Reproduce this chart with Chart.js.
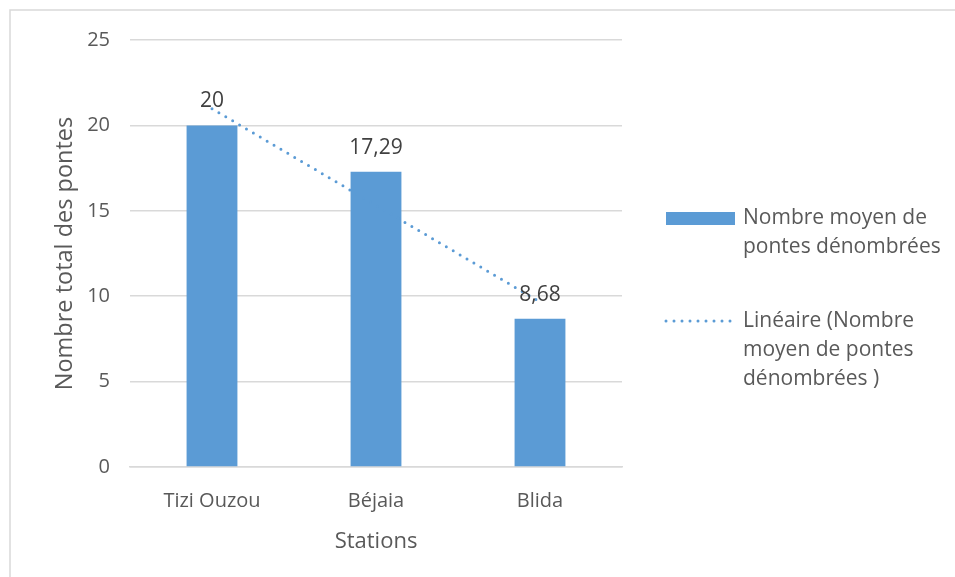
<!DOCTYPE html>
<html>
<head>
<meta charset="utf-8">
<script src="https://cdn.jsdelivr.net/npm/chart.js@4"></script>
<style>
  html, body { margin: 0; padding: 0; background: #fff; }
  #wrap { width: 955px; height: 577px; position: relative; }
</style>
</head>
<body>
<div id="wrap"><canvas id="chart" width="955" height="577"></canvas></div>
<script>
const stations = ['Tizi Ouzou', 'Béjaia', 'Blida'];
const meanLayings = [20, 17.29, 8.68];
const linearTrend = [20.98, 15.32, 9.66];
const barLegend = ['Nombre moyen de', 'pontes dénombrées'];
const trendLegend = ['Linéaire (Nombre', 'moyen de pontes', 'dénombrées )'];

const FONT = "'Open Sans', sans-serif";
const TEXT = '#595959';
const GRID = '#D9D9D9';
const BLUE = '#5B9BD5';

function frNumber(v) {
    return String(v).replace('.', ',');
}

// frame around the whole chart
const framePlugin = {
    id: 'frame',
    beforeDraw(chart) {
        const ctx = chart.ctx;
        ctx.save();
        ctx.strokeStyle = GRID;
        ctx.lineWidth = 1.5;
        ctx.strokeRect(10, 10, 1200, 1200);
        ctx.restore();
    }
};

// value labels above the bars
const barLabels = {
    id: 'barLabels',
    afterDatasetsDraw(chart) {
        const ctx = chart.ctx;
        const idx = chart.data.datasets.findIndex(d => d.type === 'bar');
        const meta = chart.getDatasetMeta(idx);
        ctx.save();
        ctx.font = '21px ' + FONT;
        ctx.fillStyle = '#404040';
        ctx.textAlign = 'center';
        ctx.textBaseline = 'middle';
        meta.data.forEach((bar, i) => {
            ctx.fillText(frNumber(chart.data.datasets[idx].data[i]), bar.x, bar.y - 24);
        });
        ctx.restore();
    }
};

// legend on the right, wrapped over several lines
const sideLegend = {
    id: 'sideLegend',
    afterDraw(chart) {
        const ctx = chart.ctx;
        const x0 = 666, tx = 743, lh = 29;
        ctx.save();
        ctx.font = '21px ' + FONT;
        ctx.textBaseline = 'middle';

        ctx.fillStyle = BLUE;
        ctx.fillRect(x0, 212, 69, 13);
        ctx.fillStyle = TEXT;
        barLegend.forEach((t, i) => ctx.fillText(t, tx, 218 + i * lh));

        ctx.strokeStyle = BLUE;
        ctx.lineWidth = 3;
        ctx.lineCap = 'round';
        ctx.setLineDash([0, 8]);
        ctx.beginPath();
        ctx.moveTo(x0, 321);
        ctx.lineTo(x0 + 66, 321);
        ctx.stroke();
        ctx.setLineDash([]);
        trendLegend.forEach((t, i) => ctx.fillText(t, tx, 321 + i * lh));
        ctx.restore();
    }
};

new Chart(document.getElementById('chart'), {
    data: {
        labels: stations,
        datasets: [
            {
                type: 'line',
                label: trendLegend.join(' '),
                data: linearTrend,
                borderColor: BLUE,
                borderWidth: 3,
                borderDash: [0, 8],
                borderCapStyle: 'round',
                pointRadius: 0,
                fill: false,
                order: 0
            },
            {
                type: 'bar',
                label: barLegend.join(' '),
                data: meanLayings,
                backgroundColor: BLUE,
                barPercentage: 0.62,
                categoryPercentage: 0.5,
                order: 1
            }
        ]
    },
    options: {
        responsive: false,
        animation: false,
        layout: { padding: { left: 47, right: 333, top: 40, bottom: 18 } },
        plugins: {
            legend: { display: false },
            tooltip: { enabled: false }
        },
        scales: {
            x: {
                grid: { display: false },
                border: { color: GRID, width: 1.5 },
                ticks: { color: TEXT, font: { family: FONT, size: 20 }, padding: 14 },
                title: { display: true, text: 'Stations', color: TEXT, font: { family: FONT, size: 22 }, padding: { top: 4 } },
                afterFit(scale) { scale.height = 92; }
            },
            y: {
                min: 0,
                max: 25,
                ticks: { stepSize: 5, color: TEXT, font: { family: FONT, size: 20 }, padding: 20 },
                grid: { color: GRID, lineWidth: 1.5, drawTicks: false },
                border: { display: false },
                title: { display: true, text: 'Nombre total des pontes', color: TEXT, font: { family: FONT, size: 23.5 }, padding: { bottom: 12 } },
                afterFit(scale) { scale.width = 83; }
            }
        }
    },
    plugins: [framePlugin, barLabels, sideLegend]
});
</script>
</body>
</html>
